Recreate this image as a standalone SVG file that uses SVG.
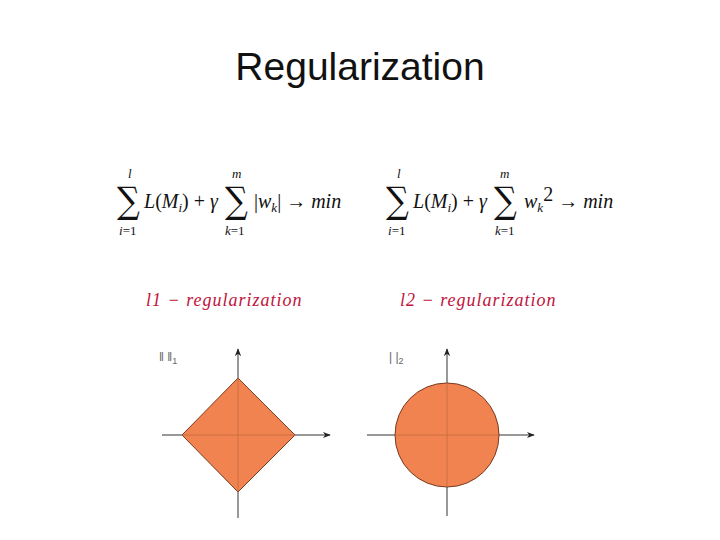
<svg xmlns="http://www.w3.org/2000/svg" width="720" height="540" viewBox="0 0 720 540">
<defs>
<style>
.m{font-family:"Liberation Serif",serif;font-style:italic;font-size:20px;fill:#111}
.n{font-family:"Liberation Serif",serif;font-style:normal;font-size:20px;fill:#111}
.s{font-family:"Liberation Serif",serif;font-size:13px;fill:#111}
.sig{font-family:"DejaVu Serif",serif;font-size:32px;fill:#111}
.r{font-family:"Liberation Serif",serif;font-style:italic;font-size:18px;fill:#c0143c;letter-spacing:1px}
.ax{stroke:#333;stroke-width:1;fill:none}
.sh{fill:#f0834f;stroke:#7a3a20;stroke-width:1}
.in{stroke:#c56a40;stroke-width:0.8}
.lb{font-family:"Liberation Sans",sans-serif;font-size:12px;fill:#666}
</style>
<marker id="a" viewBox="0 0 10 10" refX="9" refY="5" markerWidth="8" markerHeight="8" orient="auto"><path d="M0,1 L10,5 L0,9 L3,5Z" fill="#222"/></marker>
</defs>
<text x="360" y="80" text-anchor="middle" font-family="Liberation Sans,sans-serif" font-size="39" fill="#111">Regularization</text>
<g id="formula1">
<text class="s" x="128" y="178" font-style="italic">l</text>
<text class="sig" x="117" y="213" transform="translate(117 213) scale(1 1.15) translate(-117 -213)">∑</text>
<text class="s" x="119" y="235" font-style="italic">i<tspan font-style="normal">=1</tspan></text>
<text class="m" x="144" y="208">L<tspan class="n">(</tspan>M<tspan font-size="13" dy="4">i</tspan><tspan class="n" dy="-4">) + </tspan>γ</text>
<text class="s" x="232" y="178" font-style="italic">m</text>
<text class="sig" x="225" y="213" transform="translate(225 213) scale(1 1.15) translate(-225 -213)">∑</text>
<text class="s" x="225" y="235" font-style="italic">k<tspan font-style="normal">=1</tspan></text>
<text class="m" x="254" y="208"><tspan class="n">|</tspan>w<tspan font-size="13" dy="4">k</tspan><tspan class="n" dy="-4">| → </tspan>min</text>
</g>
<g id="formula2">
<text class="s" x="397" y="178" font-style="italic">l</text>
<text class="sig" x="386" y="213" transform="translate(386 213) scale(1 1.15) translate(-386 -213)">∑</text>
<text class="s" x="388" y="235" font-style="italic">i<tspan font-style="normal">=1</tspan></text>
<text class="m" x="413" y="208">L<tspan class="n">(</tspan>M<tspan font-size="13" dy="4">i</tspan><tspan class="n" dy="-4">) + </tspan>γ</text>
<text class="s" x="500" y="178" font-style="italic">m</text>
<text class="sig" x="494" y="213" transform="translate(494 213) scale(1 1.15) translate(-494 -213)">∑</text>
<text class="s" x="495" y="235" font-style="italic">k<tspan font-style="normal">=1</tspan></text>
<text class="m" x="524" y="208">w<tspan font-size="13" dy="4">k</tspan><tspan class="n" font-size="13" dy="-11">2</tspan><tspan class="n" dy="7"> → </tspan>min</text>
</g>
<text id="l1label" class="r" x="146" y="306">l1 − regularization</text>
<text id="l2label" class="r" x="400" y="306">l2 − regularization</text>
<g id="l1">
<path class="sh" d="M238,378 L295,435 L238,492 L182,435Z"/>
<line class="in" x1="182" y1="435" x2="295" y2="435"/>
<line class="in" x1="238" y1="378" x2="238" y2="492"/>
<line class="ax" x1="162" y1="435" x2="182" y2="435"/>
<line class="ax" x1="295" y1="435" x2="330" y2="435" marker-end="url(#a)"/>
<line class="ax" x1="238" y1="492" x2="238" y2="518"/>
<line class="ax" x1="238" y1="378" x2="238" y2="349" marker-end="url(#a)"/>
<text class="lb" x="159" y="361">‖ ‖<tspan font-size="9" dy="3">1</tspan></text>
</g>
<g id="l2">
<circle class="sh" cx="447" cy="435" r="52"/>
<line class="in" x1="395" y1="435" x2="499" y2="435"/>
<line class="in" x1="447" y1="383" x2="447" y2="487"/>
<line class="ax" x1="367" y1="435" x2="395" y2="435"/>
<line class="ax" x1="499" y1="435" x2="534" y2="435" marker-end="url(#a)"/>
<line class="ax" x1="447" y1="487" x2="447" y2="516"/>
<line class="ax" x1="447" y1="383" x2="447" y2="349" marker-end="url(#a)"/>
<text class="lb" x="389" y="361">| |<tspan font-size="9" dy="3">2</tspan></text>
</g>
</svg>
